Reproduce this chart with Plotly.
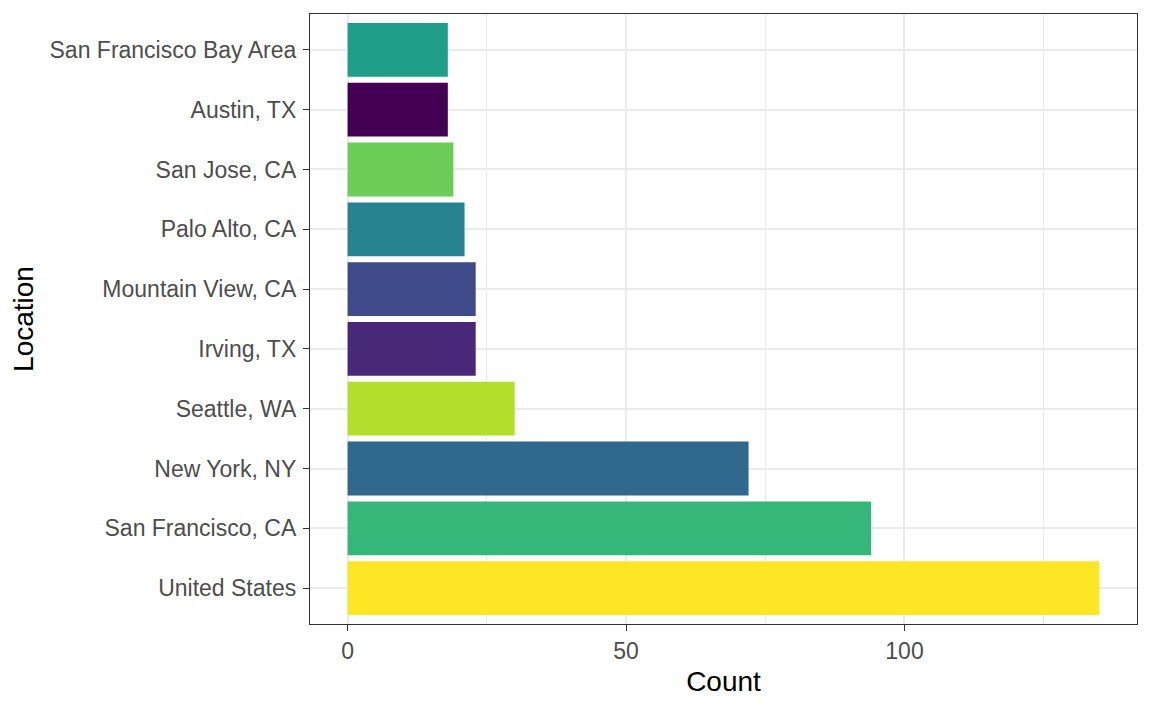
import plotly.graph_objects as go

locations = ["United States", "San Francisco, CA", "New York, NY", "Seattle, WA",
             "Irving, TX", "Mountain View, CA", "Palo Alto, CA", "San Jose, CA",
             "Austin, TX", "San Francisco Bay Area"]
counts = [135, 94, 72, 30, 23, 23, 21, 19, 18, 18]
colors = ["#FDE725", "#35B779", "#31688E", "#B4DE2C", "#482878",
          "#3E4A89", "#26828E", "#6DCD59", "#440154", "#1F9E89"]

fig = go.Figure(go.Bar(
    x=counts, y=locations, orientation="h",
    marker=dict(color=colors, line=dict(width=0)),
    width=0.9, showlegend=False,
))

font = "Liberation Sans, Arial, sans-serif"
fig.update_layout(
    width=1144, height=703,
    margin=dict(l=302, r=15, t=6, b=87),
    paper_bgcolor="white", plot_bgcolor="white",
    font=dict(family=font, color="#4D4D4D", size=23),
    xaxis=dict(
        range=[-6.75, 141.75], tickvals=[0, 50, 100], ticktext=["0", "50", "100"],
        showgrid=True, gridcolor="#EBEBEB", gridwidth=1.6,
        minor=dict(tickvals=[25, 75, 125], showgrid=True, gridcolor="#EBEBEB", gridwidth=0.8),
        ticks="outside", ticklen=6, tickcolor="#333333", tickwidth=1.3,
        showline=True, linecolor="#333333", linewidth=1.3, mirror=True,
        zeroline=False, automargin=False,
        tickfont=dict(size=23, color="#4D4D4D"),
        title=dict(text="Count", font=dict(size=28, color="black"), standoff=8),
    ),
    yaxis=dict(
        categoryorder="array", categoryarray=locations,
        range=[-0.6, 9.6],
        showgrid=True, gridcolor="#EBEBEB", gridwidth=1.6,
        ticks="outside", ticklen=6, tickcolor="#333333", tickwidth=1.3,
        showline=True, linecolor="#333333", linewidth=1.3, mirror=True,
        zeroline=False, automargin=False, ticklabelstandoff=2,
        tickfont=dict(size=23, color="#4D4D4D"),
        title=dict(text="Location", font=dict(size=28, color="black"), standoff=8),
    ),
)

fig.write_html("out.html")
